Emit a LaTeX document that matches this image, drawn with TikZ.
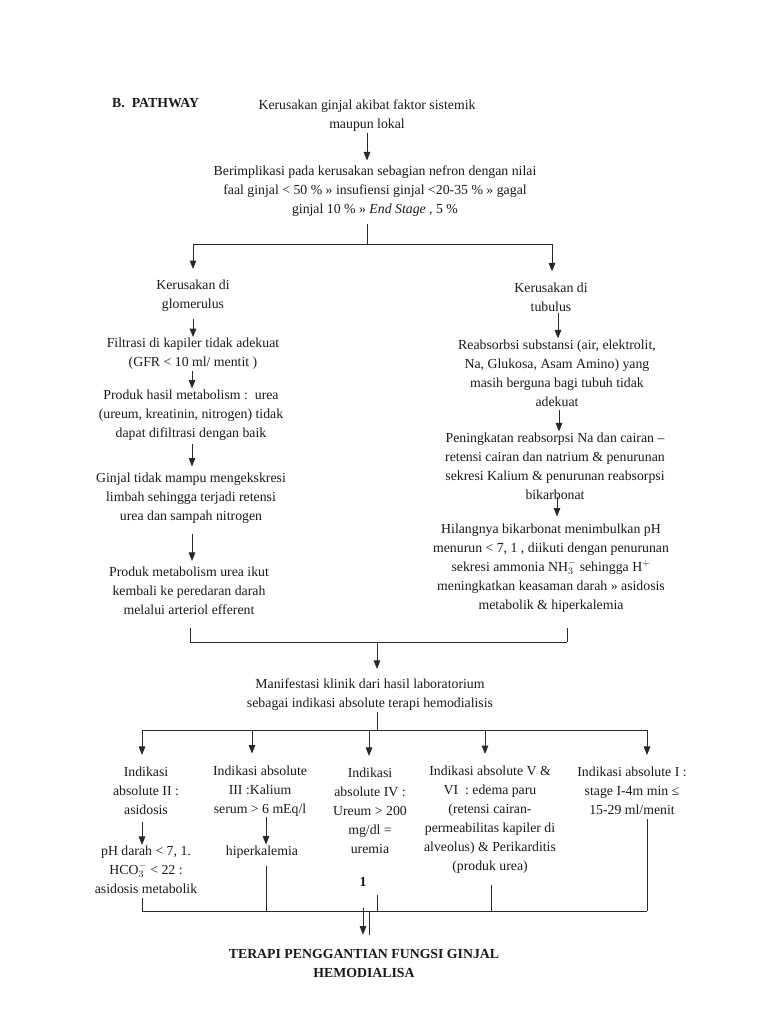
\documentclass[tikz,border=0pt]{standalone}
\usepackage{fontspec}
\setmainfont{Liberation Serif}
\usepackage{xcolor}
\usepackage{tikz}
\usetikzlibrary{arrows.meta}
\definecolor{inkline}{RGB}{40, 40, 40}
\definecolor{inktext}{RGB}{25, 25, 25}

\tikzset{
  txt/.style={inktext, align=center, inner sep=1pt, yshift=-2pt, font=\fontsize{13.8}{19}\selectfont},
  boldtxt/.style={txt, font=\fontsize{13.8}{19}\selectfont\bfseries},
  ln/.style={inkline, line width=1pt},
  arw/.style={ln, -{Triangle[length=8.5pt, width=6.5pt]}}
}

\begin{document}
\begin{tikzpicture}[x=1pt, y=-1pt]
  \useasboundingbox (0,0) rectangle (768,1024);

  \node[boldtxt, anchor=west] (title) at (111,101) {B.\ \ PATHWAY};

  % top part
  \node[txt] (top) at (367,114)
       {Kerusakan ginjal akibat faktor sistemik\\maupun lokal};
  \node[txt] (impl) at (375,189)
       {Berimplikasi pada kerusakan sebagian nefron dengan nilai\\
        faal ginjal < 50 \% » insufiensi ginjal <20-35 \% » gagal\\
        ginjal 10 \% » \textit{End Stage} , 5 \%};
  \coordinate (split) at (367,244);

  % left branch
  \node[txt] (glo) at (193,294) {Kerusakan di\\glomerulus};
  \node[txt] (fil) at (193,352)
       {Filtrasi di kapiler tidak adekuat\\(GFR < 10 ml/ mentit )};
  \node[txt] (prod) at (191,413)
       {Produk hasil metabolism :\ \ urea\\(ureum, kreatinin, nitrogen) tidak\\dapat difiltrasi dengan baik};
  \node[txt] (ginj) at (191,496)
       {Ginjal tidak mampu mengekskresi\\limbah sehingga terjadi retensi\\urea dan sampah nitrogen};
  \node[txt] (prodm) at (189,589)
       {Produk metabolism urea ikut\\kembali ke peredaran darah\\melalui arteriol efferent};

  % right branch
  \node[txt] (tub) at (551,295) {Kerusakan di\\tubulus};
  \node[txt] (reab) at (557,371)
       {Reabsorbsi substansi (air, elektrolit,\\Na, Glukosa, Asam Amino) yang\\masih berguna bagi tubuh tidak\\adekuat};
  \node[txt] (pen) at (555,464)
       {Peningkatan reabsorpsi Na dan cairan –\\retensi cairan dan natrium \& penurunan\\sekresi Kalium \& penurunan reabsorpsi\\bikarbonat};
  \node[txt] (hil) at (551,566)
       {Hilangnya bikarbonat menimbulkan pH\\menurun < 7, 1 , diikuti dengan penurunan\\
        sekresi ammonia NH$_3^-$ sehingga H$^+$\\meningkatkan keasaman darah » asidosis\\metabolik \& hiperkalemia};
  \coordinate (merge) at (377,642);

  % manifestasi
  \node[txt] (man) at (370,693)
       {Manifestasi klinik dari hasil laboratorium\\sebagai indikasi absolute terapi hemodialisis};
  \coordinate (split2) at (377,730);

  \node[txt] (ind2) at (146,789) {Indikasi\\absolute II :\\asidosis};
  \node[txt] (ind3) at (260,789) {Indikasi absolute\\III :Kalium\\serum > 6 mEq/l};
  \node[txt] (ind4) at (370,809) {Indikasi\\absolute IV :\\Ureum > 200\\mg/dl =\\uremia};
  \node[txt] (ind56) at (490,818)
       {Indikasi absolute V \&\\VI\ \ : edema paru\\(retensi cairan-\\permeabilitas kapiler di\\alveolus) \& Perikarditis\\(produk urea)};
  \node[txt] (ind1) at (632,789) {Indikasi absolute I :\\stage I-4m min ≤\\15-29 ml/menit};

  \node[txt] (ph) at (146,868) {pH darah < 7, 1.\\HCO$_3^-$ < 22 :\\asidosis metabolik};
  \node[txt] (hiper) at (262,850) {hiperkalemia};
  \node[boldtxt] (one) at (363,880) {1};
  \coordinate (bar) at (377,911);

  \node[boldtxt] (terapi) at (364,961)
       {TERAPI PENGGANTIAN FUNGSI GINJAL\\HEMODIALISA};

  % connectors, top
  \draw[arw, shorten >=4pt] (367,0 |- top.south) -- (367,0 |- impl.north);
  \draw[ln, shorten <=6pt] (367,0 |- impl.south) -- (split);
  \draw[ln] (193,0 |- split) -- (552,0 |- split);
  \draw[arw, shorten >=10pt] (193,0 |- split) -- (193,0 |- glo.north);
  \draw[arw, shorten >=10pt] (552,0 |- split) -- (552,0 |- tub.north);

  % connectors, left
  \draw[arw, shorten <=6pt] (193,0 |- glo.south) -- (193,0 |- fil.north);
  \draw[arw] (192,0 |- fil.south) -- (192,0 |- prod.north);
  \draw[arw, shorten <=3pt, shorten >=5pt] (192,0 |- prod.south) -- (192,0 |- ginj.north);
  \draw[arw, shorten <=10pt, shorten >=5pt] (192,0 |- ginj.south) -- (192,0 |- prodm.north);

  % connectors, right
  \draw[arw] (558,0 |- tub.south) -- (558,0 |- reab.north);
  \draw[arw, shorten <=2pt] (559,0 |- reab.south) -- (559,0 |- pen.north);
  \draw[arw, shorten <=-4pt, shorten >=6pt] (557,0 |- pen.south) -- (557,0 |- hil.north);

  % merge
  \draw[ln, shorten <=12pt] (190,0 |- prodm.south) -- (190,0 |- merge) -- (567,0 |- merge);
  \draw[ln, shorten <=15pt] (567,0 |- hil.south) -- (567,0 |- merge);
  \draw[arw, shorten >=9pt] (merge) -- (377,0 |- man.north);

  % indikasi
  \draw[ln] (377,0 |- man.south) -- (split2);
  \draw[ln] (142,0 |- split2) -- (648,0 |- split2);
  \foreach \nm/\xx in {ind2/142, ind3/252, ind4/369, ind56/485, ind1/647}
    \draw[arw, shorten >=11pt] (\xx,0 |- split2) -- (\xx,0 |- \nm.north);
  \draw[arw, shorten <=6pt] (142,0 |- ind2.south) -- (142,0 |- ph.north);
  \draw[arw] (266,0 |- ind3.south) -- (266,0 |- hiper.north);

  % bottom
  \draw[ln, shorten <=3pt] (142,0 |- ph.south) -- (142,0 |- bar) -- (647,0 |- bar);
  \draw[ln, shorten <=3pt] (647,0 |- ind1.south) -- (647,0 |- bar);
  \draw[ln, shorten <=7pt] (266,0 |- hiper.south) -- (266,0 |- bar);
  \draw[ln, shorten <=7pt] (377,0 |- one.south) -- (bar);
  \draw[ln, shorten <=10pt] (491,0 |- ind56.south) -- (491,0 |- bar);
  \draw[arw, shorten <=-3pt, shorten >=13pt] (363,0 |- bar) -- (363,0 |- terapi.north);
  \draw[ln, shorten >=13pt] (369,0 |- bar) -- (369,0 |- terapi.north);
\end{tikzpicture}
\end{document}
